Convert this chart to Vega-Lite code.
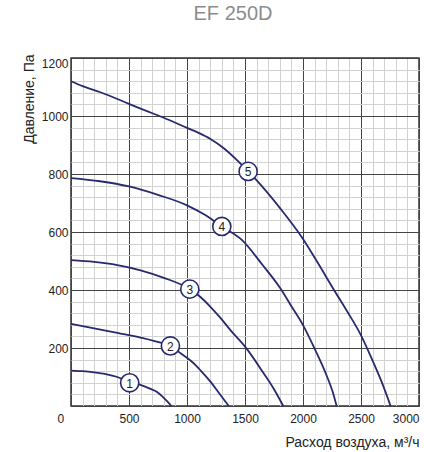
{
  "$schema": "https://vega.github.io/schema/vega-lite/v6.json",
  "width": 348,
  "height": 348,
  "autosize": "none",
  "padding": {"left": 71, "top": 58, "right": 5, "bottom": 46},
  "background": "white",
  "config": {
    "font": "Liberation Sans",
    "view": {"stroke": "#333333", "strokeWidth": 1.5}
  },
  "title": {
    "text": "EF 250D",
    "fontSize": 20,
    "fontWeight": "normal",
    "color": "#8c8c8c",
    "anchor": "middle",
    "dx": -12,
    "offset": 30
  },
  "datasets": {
    "curves": [
      {"curve": "1", "q": 0, "p": 122}, {"curve": "1", "q": 100, "p": 120}, {"curve": "1", "q": 200, "p": 116}, {"curve": "1", "q": 300, "p": 110}, {"curve": "1", "q": 400, "p": 100}, {"curve": "1", "q": 500, "p": 84}, {"curve": "1", "q": 592, "p": 74}, {"curve": "1", "q": 680, "p": 60}, {"curve": "1", "q": 742, "p": 48}, {"curve": "1", "q": 800, "p": 28}, {"curve": "1", "q": 866, "p": 0},
      {"curve": "2", "q": 0, "p": 283}, {"curve": "2", "q": 200, "p": 268}, {"curve": "2", "q": 400, "p": 252}, {"curve": "2", "q": 600, "p": 236}, {"curve": "2", "q": 800, "p": 215}, {"curve": "2", "q": 857, "p": 207}, {"curve": "2", "q": 950, "p": 180}, {"curve": "2", "q": 1050, "p": 150}, {"curve": "2", "q": 1116, "p": 123}, {"curve": "2", "q": 1200, "p": 85}, {"curve": "2", "q": 1290, "p": 37}, {"curve": "2", "q": 1360, "p": 0},
      {"curve": "3", "q": 0, "p": 503}, {"curve": "3", "q": 200, "p": 497}, {"curve": "3", "q": 400, "p": 486}, {"curve": "3", "q": 600, "p": 468}, {"curve": "3", "q": 800, "p": 442}, {"curve": "3", "q": 1024, "p": 403}, {"curve": "3", "q": 1116, "p": 376}, {"curve": "3", "q": 1200, "p": 343}, {"curve": "3", "q": 1290, "p": 303}, {"curve": "3", "q": 1376, "p": 261}, {"curve": "3", "q": 1504, "p": 203}, {"curve": "3", "q": 1662, "p": 112}, {"curve": "3", "q": 1750, "p": 58}, {"curve": "3", "q": 1830, "p": 0},
      {"curve": "4", "q": 0, "p": 786}, {"curve": "4", "q": 250, "p": 775}, {"curve": "4", "q": 500, "p": 757}, {"curve": "4", "q": 750, "p": 728}, {"curve": "4", "q": 1000, "p": 692}, {"curve": "4", "q": 1150, "p": 660}, {"curve": "4", "q": 1300, "p": 619}, {"curve": "4", "q": 1475, "p": 572}, {"curve": "4", "q": 1650, "p": 487}, {"curve": "4", "q": 1806, "p": 405}, {"curve": "4", "q": 1900, "p": 344}, {"curve": "4", "q": 1993, "p": 284}, {"curve": "4", "q": 2094, "p": 203}, {"curve": "4", "q": 2209, "p": 100}, {"curve": "4", "q": 2255, "p": 50}, {"curve": "4", "q": 2290, "p": 0},
      {"curve": "5", "q": 0, "p": 1120}, {"curve": "5", "q": 100, "p": 1103}, {"curve": "5", "q": 253, "p": 1082}, {"curve": "5", "q": 500, "p": 1042}, {"curve": "5", "q": 627, "p": 1021}, {"curve": "5", "q": 800, "p": 994}, {"curve": "5", "q": 1001, "p": 959}, {"curve": "5", "q": 1100, "p": 942}, {"curve": "5", "q": 1202, "p": 921}, {"curve": "5", "q": 1320, "p": 888}, {"curve": "5", "q": 1433, "p": 847}, {"curve": "5", "q": 1527, "p": 809}, {"curve": "5", "q": 1605, "p": 776}, {"curve": "5", "q": 1800, "p": 683}, {"curve": "5", "q": 1993, "p": 580}, {"curve": "5", "q": 2130, "p": 492}, {"curve": "5", "q": 2266, "p": 401}, {"curve": "5", "q": 2380, "p": 327}, {"curve": "5", "q": 2497, "p": 246}, {"curve": "5", "q": 2611, "p": 146}, {"curve": "5", "q": 2684, "p": 77}, {"curve": "5", "q": 2755, "p": 0}
    ],
    "labels": [
      {"curve": "1", "q": 506, "p": 80},
      {"curve": "2", "q": 857, "p": 207},
      {"curve": "3", "q": 1024, "p": 403},
      {"curve": "4", "q": 1300, "p": 619},
      {"curve": "5", "q": 1527, "p": 809}
    ]
  },
  "encoding": {
    "x": {
      "field": "q", "type": "quantitative",
      "scale": {"domain": [0, 3000], "nice": false, "zero": false},
      "axis": {
        "values": [0,100,200,300,400,500,600,700,800,900,1000,1100,1200,1300,1400,1500,1600,1700,1800,1900,2000,2100,2200,2300,2400,2500,2600,2700,2800,2900,3000],
        "format": "d",
        "labelExpr": "datum.value % 500 === 0 ? datum.label : ''",
        "labelOverlap": false,
        "labelFlush": true,
        "labelFontSize": 12,
        "labelColor": "#222222",
        "labelPadding": 7,
        "labelOffset": {"condition": {"test": "datum.value === 0", "value": -14}, "value": 0},
        "ticks": false,
        "domain": false,
        "grid": true,
        "gridColor": {"condition": {"test": "datum.value % 500 === 0", "value": "#444444"}, "value": "#d2d2d2"},
        "gridWidth": 1,
        "gridOpacity": 1,
        "title": "Расход воздуха, м³/ч",
        "titleFontSize": 14,
        "titleFontWeight": "normal",
        "titleColor": "#222222",
        "titleAnchor": "end",
        "titleAlign": "right",
        "titleBaseline": "middle",
        "titleX": 348,
        "titleY": 36
      }
    },
    "y": {
      "field": "p", "type": "quantitative",
      "scale": {"domain": [0, 1200], "nice": false, "zero": false},
      "axis": {
        "values": [0,40,80,120,160,200,240,280,320,360,400,440,480,520,560,600,640,680,720,760,800,840,880,920,960,1000,1040,1080,1120,1160,1200],
        "format": "d",
        "labelExpr": "datum.value % 200 === 0 && datum.value > 0 ? datum.label : ''",
        "labelOverlap": false,
        "labelFlush": true,
        "labelFontSize": 12,
        "labelColor": "#222222",
        "labelPadding": 3,
        "ticks": false,
        "domain": false,
        "grid": true,
        "gridColor": {"condition": {"test": "datum.value % 200 === 0", "value": "#444444"}, "value": "#d2d2d2"},
        "gridWidth": 1,
        "gridOpacity": 1,
        "title": "Давление, Па",
        "titleFontSize": 14,
        "titleFontWeight": "normal",
        "titleColor": "#222222",
        "titleAngle": -90,
        "titleAnchor": "end",
        "titleAlign": "right",
        "titleBaseline": "middle",
        "titleX": -42,
        "titleY": -4
      }
    }
  },
  "layer": [
    {
      "data": {"name": "curves"},
      "mark": {"type": "line", "interpolate": "monotone", "color": "#272a6c", "strokeWidth": 1.8},
      "encoding": {
        "detail": {"field": "curve", "type": "nominal"}
      }
    },
    {
      "data": {"name": "labels"},
      "mark": {"type": "point", "shape": "circle", "filled": true, "fill": "white", "stroke": "#272a6c", "strokeWidth": 1.6, "size": 330, "opacity": 1}
    },
    {
      "data": {"name": "labels"},
      "mark": {"type": "text", "fontSize": 12, "color": "#222222", "baseline": "middle", "align": "center", "dy": 1},
      "encoding": {
        "text": {"field": "curve", "type": "nominal"}
      }
    }
  ]
}
